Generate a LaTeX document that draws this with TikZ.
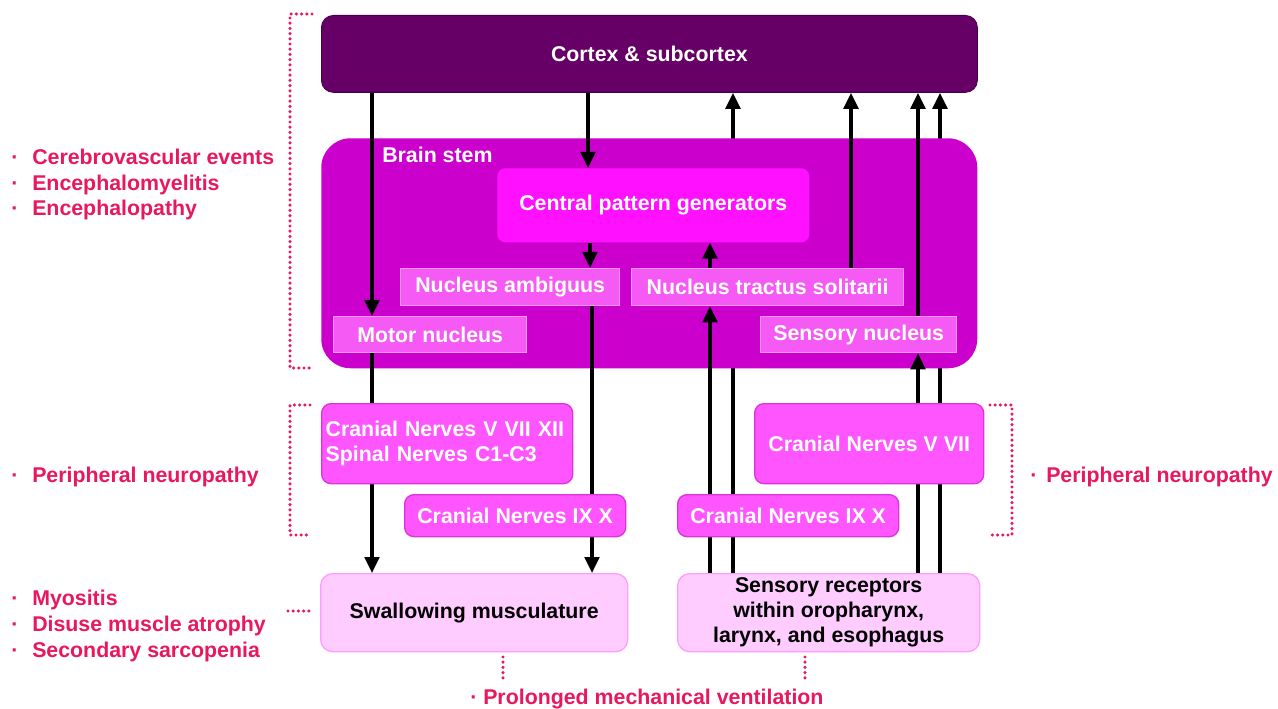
\documentclass[tikz,border=0pt]{standalone}
\usepackage{fontspec}
\setmainfont{Liberation Sans}
\usetikzlibrary{arrows.meta}
\definecolor{cortexc}{HTML}{660066}
\definecolor{stemc}{HTML}{CC00CC}
\definecolor{cpgc}{HTML}{FF10FF}
\definecolor{nucc}{HTML}{F55AF5}
\definecolor{nucb}{HTML}{FF99FF}
\definecolor{nervec}{HTML}{FF55FF}
\definecolor{nerveb}{HTML}{DD33DD}
\definecolor{lowc}{HTML}{FFCCFF}
\definecolor{lowb}{HTML}{FF9DFF}
\definecolor{redc}{HTML}{E8185C}
\pgfdeclarelayer{lZ}\pgfdeclarelayer{lA}\pgfdeclarelayer{lB}\pgfdeclarelayer{lC}
\pgfsetlayers{lZ,lA,lB,lC,main}
\newcommand\boxat[6]{\node[#1,anchor=north west,minimum width={(#4-#2)*0.75pt},minimum height={(#5-#3)*0.75pt}] (#6) at (#2,#3)}
\begin{document}
\begin{tikzpicture}[x=0.75pt,y=-0.75pt,
 every node/.style={font=\fontsize{16}{18.75}\selectfont\bfseries, inner sep=0pt},
 cortexbox/.style={fill=cortexc, draw=cortexc!70!black, line width=0.6pt, rounded corners=9pt, text=white},
 stembox/.style={fill=stemc, rounded corners=22pt},
 cpgbox/.style={fill=cpgc, rounded corners=6pt, text=white},
 nucbox/.style={fill=nucc, draw=nucb, line width=1pt, text=white},
 nervebox/.style={fill=nervec, draw=nerveb, line width=1pt, rounded corners=7pt, text=white},
 lowbox/.style={fill=lowc, draw=lowb, line width=1pt, rounded corners=9pt, text=black, align=center},
 redtxt/.style={text=redc, anchor=base west},
 arr/.style={line width=2.4pt, -{Triangle[width=11pt,length=12pt]}},
 dotline/.style={draw=redc, line width=2.6pt, line cap=round, dash pattern=on 0pt off 3.9pt}
]
\begin{pgfonlayer}{lZ}
\fill[white] (0,0) rectangle (1278,709);
\end{pgfonlayer}
\useasboundingbox (0,0) rectangle (1278,709);

\begin{pgfonlayer}{lB}
\boxat{cortexbox}{321}{15}{977}{92}{cortex} {Cortex \& subcortex};
\boxat{stembox}{321}{138}{977}{368}{stem} {};
\node[text=white, anchor=base west] (stemlbl) at (382,163) {Brain stem};
\boxat{cpgbox}{497}{168}{809}{242}{cpg} {Central pattern generators};
\boxat{nucbox}{400}{268}{619}{305}{amb} {Nucleus ambiguus};
\boxat{nucbox}{631}{268}{903}{305}{nts} {Nucleus tractus solitarii};
\boxat{nucbox}{333}{316}{526}{352}{motor} {Motor nucleus};
\boxat{nucbox}{760}{316}{956}{352}{sensn} {Sensory nucleus};
\end{pgfonlayer}

\node[nervebox, anchor=north west, minimum height={80*0.75pt}, text width={243*0.75pt}, inner xsep={4*0.75pt}, align=left] (cn1) at (321,403) {Cranial Nerves V VII XII\\Spinal Nerves C1-C3};
\boxat{nervebox}{404}{494}{625}{536}{cn2} {Cranial Nerves IX X};
\boxat{nervebox}{754}{403}{983}{483}{cn3} {Cranial Nerves V VII};
\boxat{nervebox}{677}{494}{898}{536}{cn4} {Cranial Nerves IX X};
\boxat{lowbox}{320}{573}{627}{651}{swal} {Swallowing musculature};
\boxat{lowbox}{677}{573}{979}{651}{rec} {Sensory receptors\\within oropharynx,\\larynx, and esophagus};

\coordinate (k372) at (372,0);
\coordinate (k588) at (588,0);
\coordinate (k590) at (590,0);
\coordinate (k592) at (592,0);
\coordinate (k710) at (710,0);
\coordinate (k733) at (733,0);
\coordinate (k851) at (851,0);
\coordinate (k918) at (918,0);
\coordinate (k940) at (940,0);

\begin{pgfonlayer}{lC}
\draw[arr] (cortex.south -| k372) -- (motor.north -| k372);
\draw[arr] (motor.south -| k372) -- (swal.north -| k372);
\draw[arr] (cortex.south -| k588) -- (cpg.north -| k588);
\draw[arr] (cpg.south -| k590) -- (amb.north -| k590);
\draw[arr] (nts.north -| k710) -- (cpg.south -| k710);
\draw[arr] (amb.south -| k592) -- (swal.north -| k592);
\draw[arr] (rec.north -| k710) -- (nts.south -| k710);
\draw[arr] (nts.north -| k851) -- (cortex.south -| k851);
\draw[arr] (sensn.north -| k918) -- (cortex.south -| k918);
\draw[arr] (rec.north -| k918) -- (sensn.south -| k918);
\end{pgfonlayer}
\begin{pgfonlayer}{lA}
\draw[arr] (rec.north -| k733) -- (cortex.south -| k733);
\draw[arr] (rec.north -| k940) -- (cortex.south -| k940);
\end{pgfonlayer}

% red labels
\node[redtxt] (r1) at (11,165) {\makebox[15.75pt][l]{·}Cerebrovascular events};
\node[redtxt] (r2) at (11,190.5) {\makebox[15.75pt][l]{·}Encephalomyelitis};
\node[redtxt] (r3) at (11,216) {\makebox[15.75pt][l]{·}Encephalopathy};
\node[redtxt] (r4) at (11,482) {\makebox[15.75pt][l]{·}Peripheral neuropathy};
\node[redtxt] (r5) at (11,605) {\makebox[15.75pt][l]{·}Myositis};
\node[redtxt] (r6) at (11,631) {\makebox[15.75pt][l]{·}Disuse muscle atrophy};
\node[redtxt] (r7) at (11,657) {\makebox[15.75pt][l]{·}Secondary sarcopenia};
\node[redtxt] (r8) at (470,704) {\makebox[9.75pt][l]{·}Prolonged mechanical ventilation};
\node[redtxt] (r9) at (1030,482) {\makebox[12pt][l]{·}Peripheral neuropathy};

% dotted brackets
\draw[dotline] (312,14) -- (290,14) -- (290,368) -- (312,368);
\draw[dotline] (310,405) -- (290,405) -- (290,535) -- (310,535);
\draw[dotline] (990,405) -- (1012,405) -- (1012,535) -- (990,535);
\draw[dotline] (288,611) -- (312,611);
\draw[dotline] (503,657) -- (503,680);
\draw[dotline] (805,657) -- (805,680);
\end{tikzpicture}
\end{document}
